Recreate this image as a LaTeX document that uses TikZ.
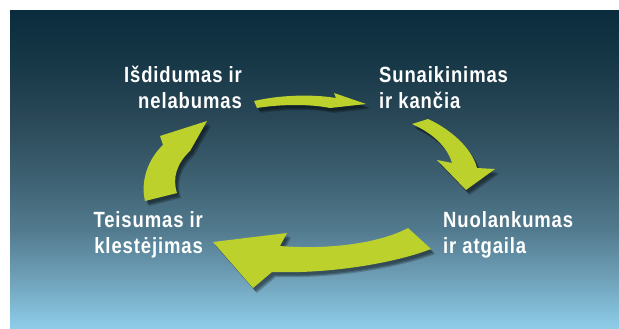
\documentclass[tikz,border=0pt]{standalone}
\usepackage{fontspec}
\newfontfamily\lblfont[FakeStretch=0.84,LetterSpace=4]{Liberation Sans}
\definecolor{arrowgreen}{RGB}{189,209,44}
\definecolor{bgA}{RGB}{142,206,234}
\definecolor{bgB}{RGB}{112,162,186}
\definecolor{bgC}{RGB}{82,122,142}
\definecolor{bgD}{RGB}{62,98,115}
\definecolor{bgE}{RGB}{42,72,88}
\definecolor{bgF}{RGB}{22,55,70}
\definecolor{bgG}{RGB}{11,44,60}
\pgfdeclareverticalshading{bgshade}{100bp}{color(0bp)=(bgA); color(25bp)=(bgA); color(32.7bp)=(bgB); color(40.6bp)=(bgC); color(48.4bp)=(bgD); color(57.9bp)=(bgE); color(67.3bp)=(bgF); color(75bp)=(bgG); color(100bp)=(bgG)}
\tikzset{
  lbltext/.style={text=white, inner sep=0pt, font=\lblfont\bfseries\fontsize{22}{26}\selectfont},
  arrowbody/.style={fill=arrowgreen},
  arrowshadow/.style={fill=black, fill opacity=0.2},
  pics/greenarrow/.style={code={
    \foreach \d in {4,3,2}{\fill[arrowshadow, shift={(\d,\d+1)}] #1;}
    \fill[arrowbody] #1;
  }}
}
\begin{document}
\begin{tikzpicture}[x=1pt,y=-1pt]
\useasboundingbox (0,0) rectangle (619,329);
\shade[shading=bgshade] (10,11) rectangle (619,329);

% labels
\node[lbltext, anchor=base east] (pride) at (242,83)
  {\begin{tabular}[t]{@{}r@{}}Išdidumas ir\\nelabumas\end{tabular}};
\node[lbltext, anchor=base west] (ruin) at (379,83)
  {\begin{tabular}[t]{@{}l@{}}Sunaikinimas\\ir kančia\end{tabular}};
\node[lbltext, anchor=base west] (humility) at (443,227)
  {\begin{tabular}[t]{@{}l@{}}Nuolankumas\\ir atgaila\end{tabular}};
\node[lbltext, anchor=base east] (righteous) at (203,227)
  {\begin{tabular}[t]{@{}r@{}}Teisumas ir\\klestėjimas\end{tabular}};

% arrows
\pic {greenarrow={(254,101) .. controls (280,95) and (312,94) .. (336,98) -- (334,93) -- (366,104) -- (330,108) .. controls (310,104) and (282,104) .. (257,108) -- cycle}};
\pic {greenarrow={(412,124) -- (428,119) .. controls (450,129) and (472,148) .. (477,168) -- (495,169) -- (466,190) -- (437,160) -- (452,163) .. controls (447,146) and (432,133) .. (412,124) -- cycle}};
\pic {greenarrow={(408,228) -- (431,249) .. controls (395,263) and (330,274) .. (272,272) -- (253,288) -- (213,242) -- (287,233) -- (280,246) .. controls (330,250) and (380,243) .. (408,228) -- cycle}};
\pic {greenarrow={(145,201) .. controls (140,180) and (149,158) .. (163,145) -- (160,136) -- (207,121) -- (190,151) .. controls (177,163) and (172,178) .. (177,193) -- cycle}};
\end{tikzpicture}
\end{document}
